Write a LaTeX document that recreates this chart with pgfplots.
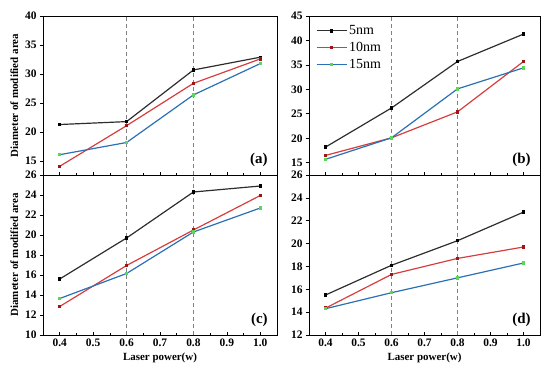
\documentclass[border=0pt]{standalone}
\usepackage{fontspec}
\setmainfont{Liberation Serif}
\usepackage{pgfplots}
\pgfplotsset{compat=1.18}
\definecolor{cblk}{RGB}{45,45,45}
\definecolor{cred}{RGB}{214,62,62}
\definecolor{cdred}{RGB}{160,20,20}
\definecolor{cblue}{RGB}{42,112,182}
\definecolor{cgreen}{RGB}{90,215,90}
\definecolor{cdash}{RGB}{130,130,130}
\pgfplotsset{
  panel/.style={
    scale only axis, anchor=south west,
    xmin=0.35, xmax=1.05,
    xtick={0.4,0.5,0.6,0.7,0.8,0.9,1.0},
    minor x tick num=1,
    xtick pos=bottom, ytick pos=left,
    xtick align=inside, ytick align=outside,
    major tick length=3bp, minor tick length=2bp,
    tick style={black, line width=0.7pt},
    axis line style={line width=0.9pt},
    tick label style={font=\bfseries\fontsize{11.5}{12}\selectfont},
    /pgf/number format/assume math mode=true,
    xticklabel style={/pgf/number format/.cd, fixed, fixed zerofill, precision=1},
    yticklabel style={/pgf/number format/.cd, fixed, precision=0},
    label style={font=\bfseries\fontsize{11}{12}\selectfont},
    legend cell align=left,
  },
  longleg/.style={legend image code/.code={\draw[mark repeat=2, mark phase=2] plot coordinates {(0bp,0bp) (15bp,0bp) (30bp,0bp)};}},
  s5/.style={cblk, line width=1.2pt, mark=square*, mark size=1.1pt, mark options={fill=black, draw=black}, longleg},
  s10/.style={cred, line width=1.2pt, mark=square*, mark size=1.1pt, mark options={fill=cdred, draw=cdred}, longleg},
  s15/.style={cblue, line width=1.2pt, mark=square*, mark size=1.1pt, mark options={fill=cgreen, draw=cgreen}, longleg},
  vd/.style={cdash, line width=0.8pt, dash pattern=on 4bp off 3bp, forget plot},
}
\newcommand{\plab}[1]{\node[anchor=south east, font=\bfseries\fontsize{15}{15}\selectfont] at (rel axis cs:0.975,0.03) {#1};}
\begin{document}
\begin{tikzpicture}
\path[use as bounding box] (0bp,0bp) rectangle (550bp,368bp);
% (a)
\begin{axis}[panel, at={(43bp,193bp)}, width=234bp, height=159bp,
  ymin=12.6, ymax=40, ytick={15,20,25,30,35,40}, xticklabels={},
  ylabel={Diameter of modified area}]
\addplot[vd] coordinates {(0.6,12.6) (0.6,40)};
\addplot[vd] coordinates {(0.8,12.6) (0.8,40)};
\addplot[s5] coordinates {(0.4,21.3) (0.6,21.8) (0.8,30.7) (1.0,32.9)};
\addplot[s10] coordinates {(0.4,14.1) (0.6,21.1) (0.8,28.4) (1.0,32.6)};
\addplot[s15] coordinates {(0.4,16.1) (0.6,18.2) (0.8,26.4) (1.0,31.8)};
\plab{(a)}
\end{axis}
% (b)
\begin{axis}[panel, at={(309bp,193bp)}, width=231bp, height=159bp,
  ymin=12.5, ymax=45, ytick={15,20,25,30,35,40,45}, xticklabels={},
  legend style={at={(rel axis cs:0.025,0.96)}, anchor=north west, draw=none, fill=none,
    font=\fontsize{14}{15}\selectfont, row sep=2bp, inner sep=1bp}]
\addplot[vd] coordinates {(0.6,12.5) (0.6,45)};
\addplot[vd] coordinates {(0.8,12.5) (0.8,45)};
\addplot[s5] coordinates {(0.4,18.2) (0.6,26.2) (0.8,35.7) (1.0,41.3)};
\addplot[s10] coordinates {(0.4,16.5) (0.6,20.1) (0.8,25.4) (1.0,35.7)};
\addplot[s15] coordinates {(0.4,15.7) (0.6,20.1) (0.8,30.1) (1.0,34.4)};
\legend{5nm,10nm,15nm}
\plab{(b)}
\end{axis}
% (c)
\begin{axis}[panel, at={(43bp,33bp)}, width=234bp, height=160bp,
  ymin=10, ymax=26, ytick={10,12,14,16,18,20,22,24,26},
  ylabel={Diameter of modified area}, xlabel={Laser power(w)}]
\addplot[vd] coordinates {(0.6,10) (0.6,26)};
\addplot[vd] coordinates {(0.8,10) (0.8,26)};
\addplot[s5] coordinates {(0.4,15.6) (0.6,19.7) (0.8,24.3) (1.0,24.9)};
\addplot[s10] coordinates {(0.4,12.85) (0.6,16.95) (0.8,20.5) (1.0,23.95)};
\addplot[s15] coordinates {(0.4,13.65) (0.6,16.15) (0.8,20.3) (1.0,22.7)};
\plab{(c)}
\end{axis}
% (d)
\begin{axis}[panel, at={(309bp,33bp)}, width=231bp, height=160bp,
  ymin=12, ymax=26, ytick={12,14,16,18,20,22,24,26},
  xlabel={Laser power(w)}]
\addplot[vd] coordinates {(0.6,12) (0.6,26)};
\addplot[vd] coordinates {(0.8,12) (0.8,26)};
\addplot[s5] coordinates {(0.4,15.5) (0.6,18.1) (0.8,20.25) (1.0,22.75)};
\addplot[s10] coordinates {(0.4,14.35) (0.6,17.3) (0.8,18.7) (1.0,19.7)};
\addplot[s15] coordinates {(0.4,14.3) (0.6,15.7) (0.8,17.0) (1.0,18.3)};
\plab{(d)}
\end{axis}
\end{tikzpicture}
\end{document}
